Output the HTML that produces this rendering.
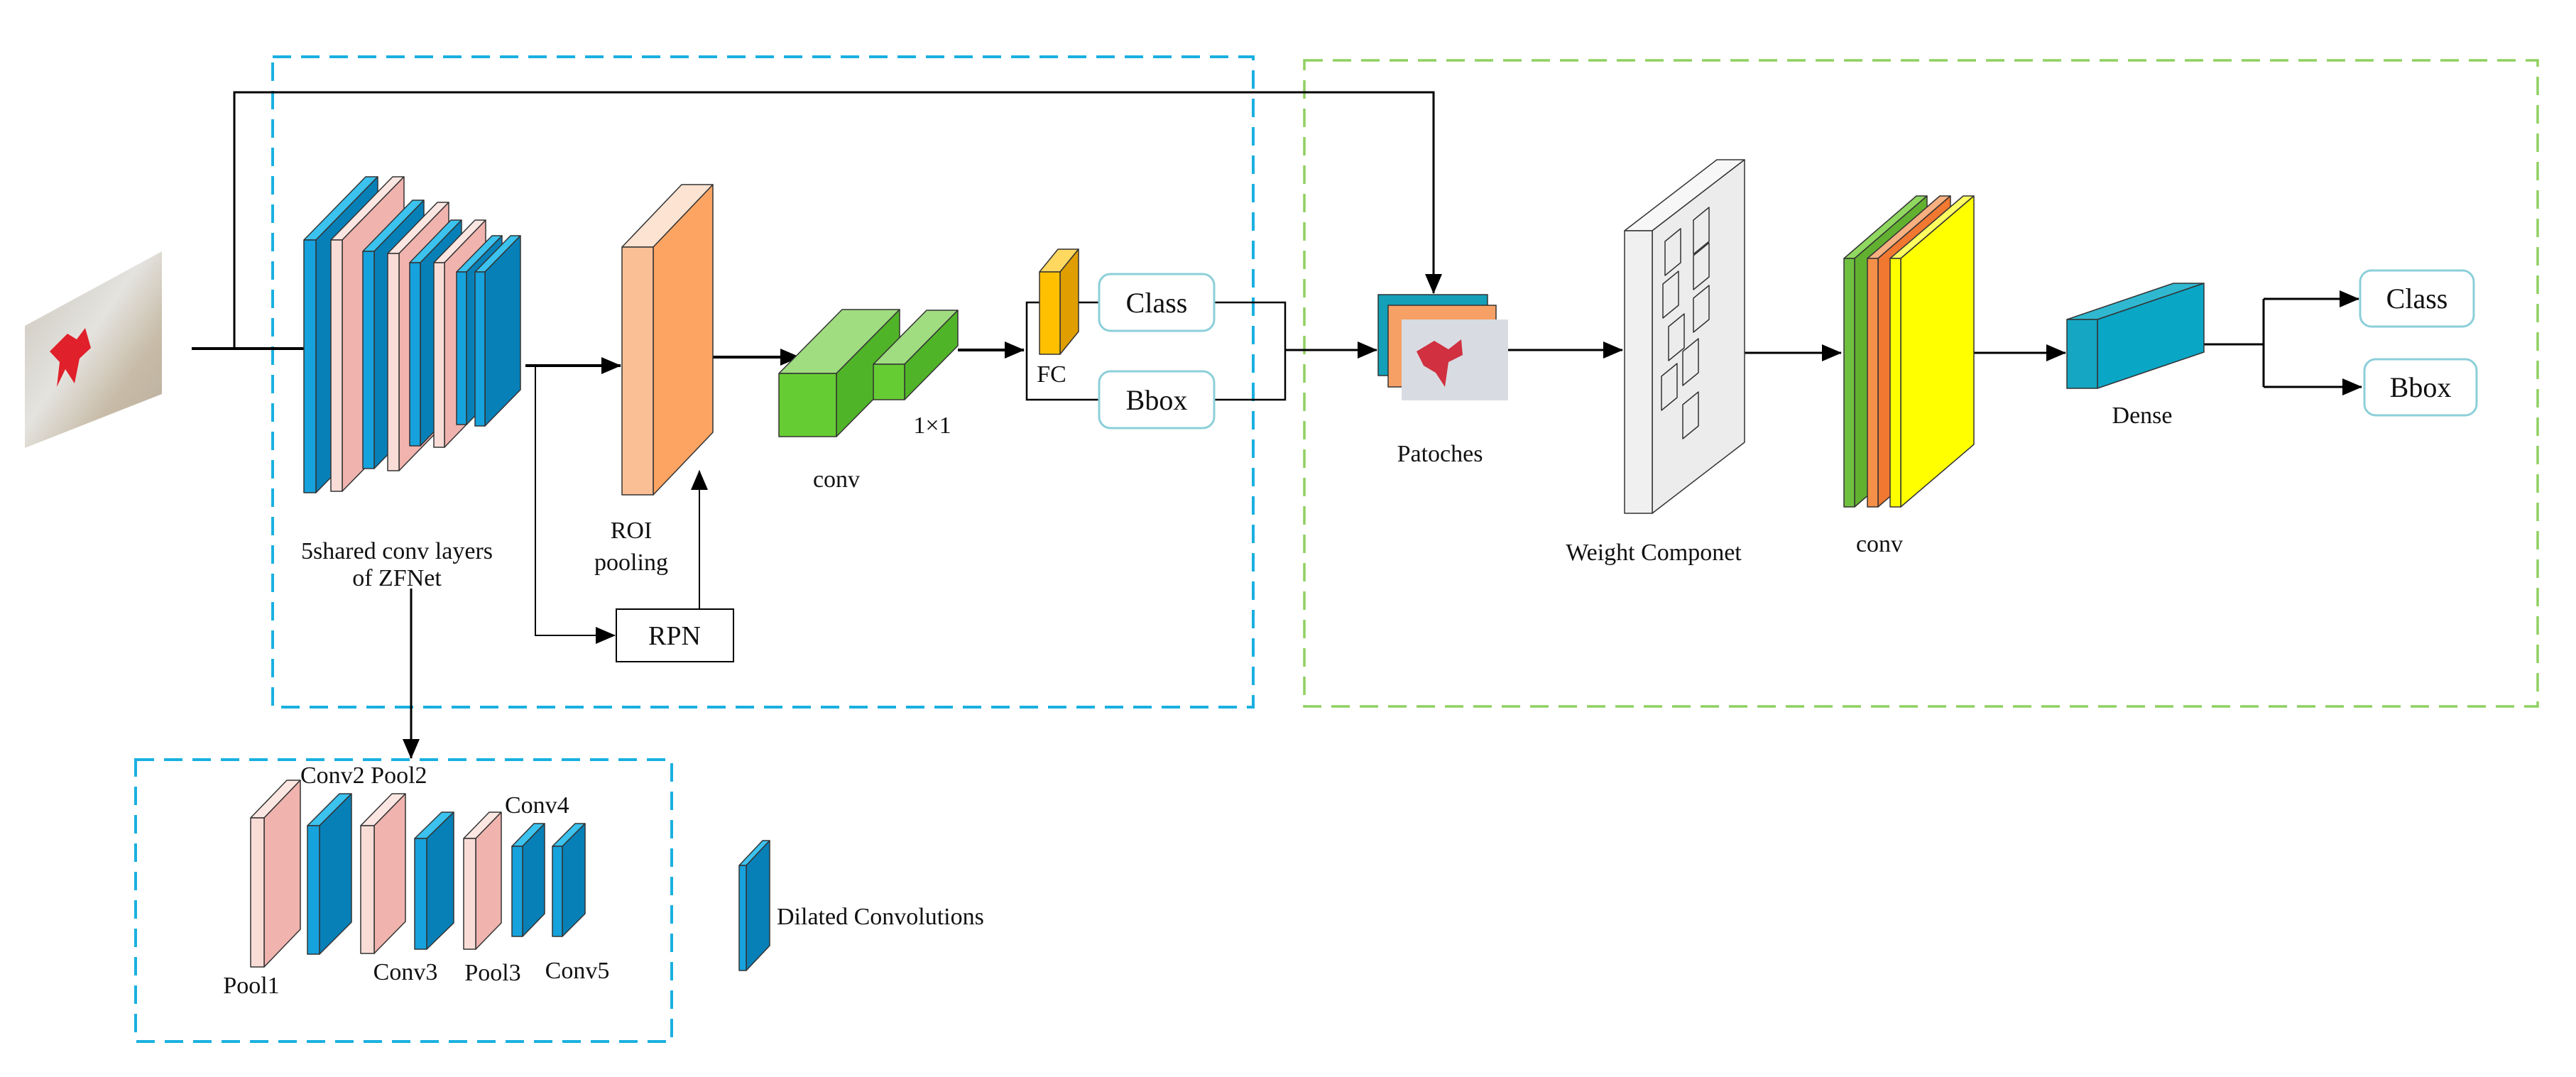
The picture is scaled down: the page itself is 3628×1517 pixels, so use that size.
<!DOCTYPE html>
<html><head><meta charset="utf-8"><style>
html,body{margin:0;padding:0;background:#fff}
svg{display:block}
svg text{font-family:"Liberation Serif","DejaVu Serif",serif;fill:#111}
</style></head><body>
<svg id="s" width="3628" height="1517" viewBox="0 0 3628 1517" xmlns="http://www.w3.org/2000/svg" font-family="Liberation Serif, serif">
<defs>
<marker id="b" markerWidth="28" markerHeight="24" refX="27" refY="12" orient="auto" markerUnits="userSpaceOnUse" viewBox="0 0 28 24"><path d="M0,0 L28,12 L0,24z" fill="#000"/></marker>
<linearGradient id="img" x1="0" y1="0" x2="1" y2="1"><stop offset="0" stop-color="#c9c3b8"/><stop offset="0.45" stop-color="#e4e3df"/><stop offset="0.7" stop-color="#c8bca8"/><stop offset="1" stop-color="#b8ad9c"/></linearGradient>
</defs>
<rect x="384" y="80" width="1381" height="916" fill="none" stroke="#1ab0e0" stroke-width="4" stroke-dasharray="26,14"/>
<rect x="1837" y="85" width="1737" height="910" fill="none" stroke="#8fd060" stroke-width="3.5" stroke-dasharray="26,14"/>
<rect x="191" y="1070" width="755" height="397" fill="none" stroke="#1ab0e0" stroke-width="4" stroke-dasharray="26,14"/>
<polygon points="35,459 228,354 228,555 35,631" fill="url(#img)"/>
<path d="M70,495 L95,470 L108,478 L120,462 L128,490 L112,505 L105,540 L92,520 L80,545 L84,510z" fill="#e0202a"/>
<g stroke="#000" fill="none">
<path d="M270,491 L428,491" stroke-width="4"/>
<path d="M330,491 L330,130 L2019,130 L2019,413" stroke-width="3" marker-end="url(#b)"/>
<path d="M740,515 L874,515" stroke-width="4" marker-end="url(#b)"/>
<path d="M754,515 L754,895 L866,895" stroke-width="2" marker-end="url(#b)"/>
<path d="M985,857 L985,663" stroke-width="2" marker-end="url(#b)"/>
<path d="M975,503 L1126,503" stroke-width="4" marker-end="url(#b)"/>
<path d="M1349,493 L1442,493" stroke-width="4" marker-end="url(#b)"/>
<path d="M1548,426 L1446,426 L1446,563 L1548,563" stroke-width="2.5"/>
<path d="M1710,426 L1810,426 L1810,563 L1710,563" stroke-width="2.5"/>
<path d="M1810,493 L1939,493" stroke-width="3" marker-end="url(#b)"/>
<path d="M2124,493 L2285,493" stroke-width="3" marker-end="url(#b)"/>
<path d="M2456,497 L2593,497" stroke-width="3" marker-end="url(#b)"/>
<path d="M2778,497 L2909,497" stroke-width="3" marker-end="url(#b)"/>
<path d="M3104,485 L3188,485 M3188,421 L3188,545" stroke-width="3"/>
<path d="M3188,421 L3322,421" stroke-width="3" marker-end="url(#b)"/>
<path d="M3188,545 L3326,545" stroke-width="3" marker-end="url(#b)"/>
<path d="M579,829 L579,1068" stroke-width="3" marker-end="url(#b)"/>
</g>
<g id="slabs"></g>
<rect x="868" y="858" width="165" height="74" fill="#fff" stroke="#000" stroke-width="2"/>
<text x="950" y="908" font-size="38" text-anchor="middle">RPN</text>
<g fill="#fff" stroke="#8ccfd9" stroke-width="3">
<rect x="1548" y="386" width="162" height="80" rx="16"/>
<rect x="1548" y="523" width="162" height="80" rx="16"/>
<rect x="3324" y="381" width="160" height="79" rx="16"/>
<rect x="3330" y="506" width="158" height="79" rx="16"/>
</g>
<g font-size="40" text-anchor="middle">
<text x="1629" y="440">Class</text>
<text x="1629" y="577">Bbox</text>
<text x="3404" y="434">Class</text>
<text x="3409" y="559">Bbox</text>
</g>
<rect x="1941" y="415" width="154" height="114" fill="#13a0b8" stroke="#333" stroke-width="1.5"/>
<rect x="1955" y="430" width="152" height="115" fill="#f7a065" stroke="#333" stroke-width="1.5"/>
<rect x="1974" y="450" width="150" height="114" fill="#d8dce2"/>
<path d="M1995,495 L2020,480 L2040,492 L2058,478 L2060,500 L2040,510 L2035,545 L2022,525 L2005,515z" fill="#d03040"/>
<g font-size="34" text-anchor="middle">
<text x="2028" y="650">Patoches</text>
<text x="2329" y="789">Weight Componet</text>
<text x="2647" y="777">conv</text>
<text x="3017" y="596">Dense</text>
<text x="559" y="787">5shared conv layers</text>
<text x="559" y="825">of ZFNet</text>
<text x="889" y="758">ROI</text>
<text x="889" y="803">pooling</text>
<text x="1178" y="686">conv</text>
<text x="1313" y="610">1×1</text>
<text x="1481" y="538">FC</text>
<text x="354" y="1399">Pool1</text>
<text x="571" y="1380">Conv3</text>
<text x="694" y="1381">Pool3</text>
<text x="813" y="1378">Conv5</text>
</g>
<g font-size="34">
<text x="423" y="1103">Conv2 Pool2</text>
<text x="711" y="1145">Conv4</text>
<text x="1094" y="1302">Dilated Convolutions</text>
</g>
</svg>
<script>
var g=document.getElementById('slabs');var NS='http://www.w3.org/2000/svg';
function poly(p,f,sw){var e=document.createElementNS(NS,'polygon');e.setAttribute('points',p.map(function(q){return q.join(',')}).join(' '));e.setAttribute('fill',f);e.setAttribute('stroke','#333');e.setAttribute('stroke-width',sw||1.5);e.setAttribute('stroke-linejoin','round');g.appendChild(e);}
function slab(x,y,w,h,dx,dy,fr,sd,tp){
poly([[x,y],[x+w,y],[x+w+dx,y+dy],[x+dx,y+dy]],tp);
poly([[x+w,y],[x+w+dx,y+dy],[x+w+dx,y+h+dy],[x+w,y+h]],sd);
poly([[x,y],[x+w,y],[x+w,y+h],[x,y+h]],fr);}
var B=['#16a2dc','#0780b8','#3cc2ee'],P=['#f9dcd6','#f0b3ae','#fbe6e2'];
function S(x,y,w,h,dx,dy,c){slab(x,y,w,h,dx,dy,c[0],c[1],c[2]);}
S(428,338,17,356,87,-89,B);S(466,338,16,354,87,-89,P);S(511,354,16,306,70,-72,B);S(546,357,16,306,70,-72,P);
S(577,370,15,258,58,-60,B);S(611,370,15,260,58,-60,P);S(643,383,14,215,50,-51,B);S(669,383,14,217,50,-51,B);
S(876,348,44,349,84,-88,['#fbbf95','#fda462','#fde3d2']);
S(1097,526,81,89,89,-90,['#66cc33','#50b428','#a0dc80']);
S(1230,513,44,50,75,-76,['#66cc33','#50b428','#a0dc80']);
S(1464,383,29,116,26,-32,['#ffc000','#e09e00','#ffd860']);
S(2288,325,39,398,130,-100,['#f0f0f0','#ececec','#f7f7f7']);
[[2345,330],[2385,300],[2342,390],[2385,350],[2350,450],[2385,410],[2340,520],[2370,485],[2370,560]].forEach(function(r){var x=r[0],y=r[1];poly([[x,y+10],[x+22,y-8],[x+22,y+40],[x,y+58]],'none',1.5);});
S(2597,364,15,350,102,-88,['#70c040','#62b030','#90d860']);
S(2630,364,15,350,102,-88,['#f59048','#f07830','#f8b080']);
S(2662,364,15,350,103,-88,['#ffff00','#ffff00','#ffff60']);
S(2911,450,43,97,150,-51,['#14a6c2','#0aa6c6','#30b8d0']);
S(353,1152,19,210,51,-53,P);S(433,1163,17,181,45,-45,B);S(508,1163,19,180,44,-45,P);
S(584,1181,17,156,38,-37,B);S(653,1181,17,156,36,-37,P);S(721,1192,15,127,31,-32,B);S(778,1192,14,127,32,-32,B);
S(1041,1219,10,148,33,-35,B);
</script>
</body></html>
